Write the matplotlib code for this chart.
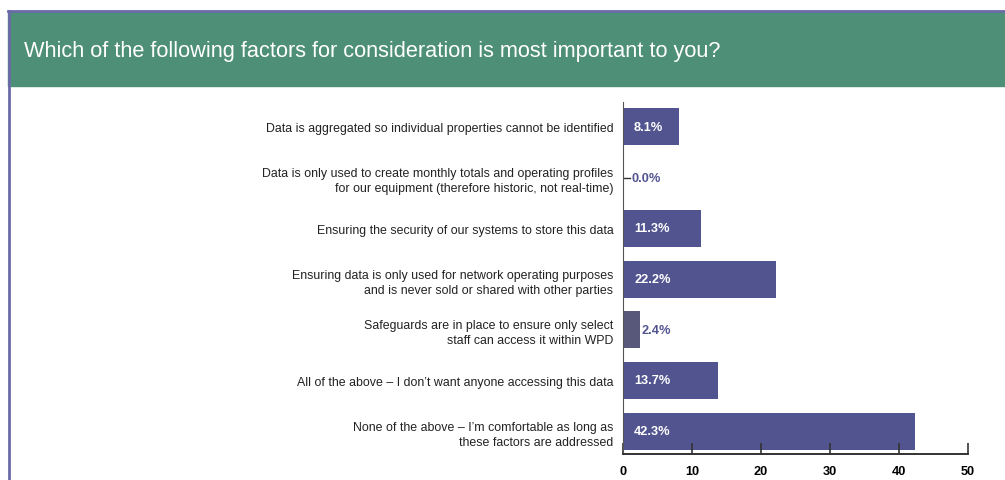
import matplotlib.pyplot as plt
from matplotlib.patches import Rectangle
from matplotlib.lines import Line2D

plt.rcParams['font.family'] = ['Liberation Sans', 'DejaVu Sans']

title = "Which of the following factors for consideration is most important to you?"
factors = [
    "Data is aggregated so individual properties cannot be identified",
    "Data is only used to create monthly totals and operating profiles\nfor our equipment (therefore historic, not real-time)",
    "Ensuring the security of our systems to store this data",
    "Ensuring data is only used for network operating purposes\nand is never sold or shared with other parties",
    "Safeguards are in place to ensure only select\nstaff can access it within WPD",
    "All of the above \u2013 I don\u2019t want anyone accessing this data",
    "None of the above \u2013 I\u2019m comfortable as long as\nthese factors are addressed",
]
percents = [8.1, 0.0, 11.3, 22.2, 2.4, 13.7, 42.3]
x_ticks = [0, 10, 20, 30, 40, 50]

bar_color = '#525490'
low_color = '#58587a'
green = '#4e8f78'
frame = '#6b6aa8'

fig = plt.figure(figsize=(10.05, 4.81), dpi=100)

# header band and frame
fig.patches.append(Rectangle((8 / 1005, 1 - 87 / 481), 1, 75 / 481,
                             transform=fig.transFigure, color=green, zorder=0))
fig.lines.append(Line2D([8 / 1005, 1], [1 - 12 / 481] * 2, transform=fig.transFigure,
                        color=frame, lw=2))
fig.lines.append(Line2D([8.5 / 1005] * 2, [0, 1 - 12 / 481], transform=fig.transFigure,
                        color=frame, lw=2))
fig.text(24 / 1005, 1 - 51 / 481, title, color='white', fontsize=15.7, va='center', ha='left')

ax = fig.add_axes([623 / 1005, 26 / 481, 345 / 1005, 352 / 481])
ypos = list(range(len(factors)))
colors = [low_color if p < 5 else bar_color for p in percents]
ax.barh(ypos, percents, height=0.73, color=colors)
ax.set_xlim(0, 50)
ax.set_ylim(6.45, -0.49)

for y, p in zip(ypos, percents):
    label = f"{p:.1f}%"
    if p >= 5:
        ax.text(1.6, y, label, color='white', fontweight='bold', fontsize=9.2, va='center')
    else:
        ax.text(p + 0.25 if p > 0 else 1.2, y, label, color=bar_color,
                fontweight='bold', fontsize=9.2, va='center')
# short leader on the empty bar
ax.plot([0, 1.0], [1, 1], color='#333333', lw=1)
ax.plot([0, 0], [0.63, 1.37], color='#222222', lw=1.4)

ax.set_yticks(ypos)
ax.set_yticklabels(factors, fontsize=8.9, color='#222222')
ax.tick_params(axis='y', length=0, pad=7)
ax.set_xticks(x_ticks)
ax.set_xticklabels([str(t) for t in x_ticks], fontweight='bold', fontsize=9.2)
ax.tick_params(axis='x', direction='in', length=8, width=1.2, color='#333333', pad=8)
for lab in ax.get_yticklabels():
    lab.set_linespacing(1.35)

ax.spines['top'].set_visible(False)
ax.spines['right'].set_visible(False)
ax.spines['left'].set_color('#555555')
ax.spines['bottom'].set_color('#333333')
ax.spines['bottom'].set_linewidth(1.4)

fig.savefig('out.png', dpi=100)
